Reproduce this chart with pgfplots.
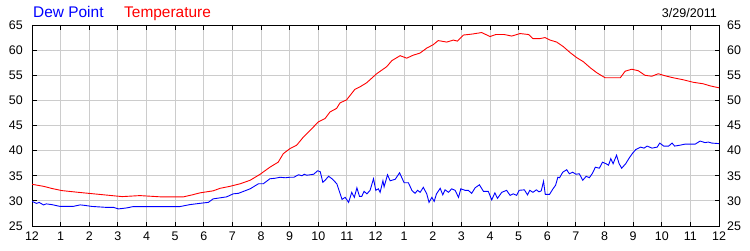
\documentclass[border=0pt]{standalone}
\usepackage{fontspec}
\setmainfont{Liberation Sans}
\usepackage{pgfplots}
\pgfplotsset{compat=1.18}
\definecolor{gridgray}{RGB}{204,204,204}
\definecolor{dewblue}{RGB}{0,0,255}
\definecolor{tempred}{RGB}{255,0,0}
\begin{document}
\begin{tikzpicture}[x=1bp,y=1bp]
\path[use as bounding box] (0,0) rectangle (750,250);
\begin{axis}[
  at={(32bp,24bp)}, anchor=south west,
  scale only axis, width=687bp, height=201bp,
  xmin=0, xmax=24, ymin=25, ymax=65,
  xtick={0,1,...,24},
  xticklabels={12,1,2,3,4,5,6,7,8,9,10,11,12,1,2,3,4,5,6,7,8,9,10,11,12},
  ytick={25,30,...,65},
  grid=major,
  major grid style={color=gridgray, line width=0.8bp},
  tick align=inside,
  major tick length=4.5bp,
  tick style={black, line width=0.8bp},
  axis line style={black, line width=0.8bp},
  /pgf/number format/assume math mode=true,
  tick label style={font=\fontsize{12.5}{14}\selectfont},
  yticklabel style={inner sep=0pt, xshift=-9bp},
  xticklabel style={inner sep=0pt, yshift=-6bp},
  clip=true,
]
\addplot[dewblue, line width=0.9bp] coordinates {
(0,29.9) (0.16,29.5) (0.25,29.7) (0.4,29.2) (0.5,29.4) (0.69,29.26) (0.98,28.9) (1.44,28.9) (1.68,29.2) (1.85,29.1) (2.08,28.9) (2.61,28.7) (2.85,28.7) (3.02,28.4) (3.31,28.6) (3.54,28.87) (5.17,28.87) (5.52,29.26) (6.0,29.6) (6.16,29.7) (6.33,30.4) (6.8,30.8) (7.03,31.4) (7.21,31.5) (7.62,32.4) (7.91,33.4) (8.08,33.4) (8.31,34.4) (8.49,34.5) (8.67,34.7) (8.85,34.6) (9.0,34.7) (9.15,34.7) (9.31,35.2) (9.43,35.0) (9.51,35.3) (9.6,35.1) (9.84,35.3) (9.98,36.0) (10.07,35.8) (10.16,33.7) (10.24,34.1) (10.36,34.9) (10.48,34.4) (10.65,33.4) (10.83,30.3) (10.94,30.7) (11.06,29.7) (11.17,31.7) (11.26,30.7) (11.35,32.6) (11.44,30.9) (11.52,30.9) (11.6,31.9) (11.7,31.4) (11.81,32.1) (11.93,34.4) (12.01,32.1) (12.1,32.4) (12.16,31.7) (12.26,34.0) (12.3,32.8) (12.42,35.2) (12.51,34.0) (12.69,34.3) (12.84,35.6) (13.0,33.6) (13.15,33.6) (13.27,32.1) (13.38,31.5) (13.47,32.1) (13.56,31.7) (13.67,32.7) (13.79,31.4) (13.87,29.7) (13.97,30.7) (14.05,29.9) (14.13,31.4) (14.26,32.5) (14.35,31.2) (14.43,32.2) (14.55,31.7) (14.66,32.4) (14.78,32.1) (14.9,30.7) (14.98,32.4) (15.13,32.1) (15.24,32.1) (15.36,31.5) (15.48,32.6) (15.63,33.2) (15.77,31.9) (15.94,31.9) (16.06,30.2) (16.17,31.6) (16.26,30.5) (16.41,31.7) (16.58,32.1) (16.7,31.1) (16.81,31.4) (16.93,31.1) (17.02,32.1) (17.2,32.2) (17.31,31.2) (17.39,32.1) (17.5,31.7) (17.62,32.2) (17.71,31.8) (17.79,32.0) (17.87,33.9) (17.93,31.3) (18.08,31.3) (18.2,32.4) (18.29,33.1) (18.37,34.7) (18.43,34.6) (18.54,35.7) (18.68,36.2) (18.77,35.4) (18.89,35.7) (19.0,35.3) (19.12,35.4) (19.24,34.1) (19.36,34.9) (19.47,34.6) (19.58,35.5) (19.68,36.7) (19.82,36.5) (19.93,37.7) (20.05,37.4) (20.14,37.1) (20.22,38.4) (20.3,37.4) (20.42,39.1) (20.51,37.4) (20.6,36.5) (20.74,37.4) (20.86,38.5) (20.97,39.4) (21.09,40.2) (21.26,40.7) (21.38,40.5) (21.49,40.9) (21.66,40.5) (21.84,40.7) (21.93,41.5) (22.07,40.9) (22.24,40.9) (22.36,41.5) (22.45,40.9) (22.65,41.1) (22.82,41.3) (23.17,41.3) (23.34,41.9) (23.51,41.6) (23.63,41.7) (23.75,41.5) (24,41.4)
};
\addplot[tempred, line width=0.9bp] coordinates {
(0,33.3) (0.4,32.9) (0.71,32.45) (1.04,32.05) (1.62,31.7) (2.43,31.25) (3.15,30.85) (3.77,31.05) (4.5,30.8) (5.29,30.8) (5.6,31.2) (5.87,31.6) (6.33,32.0) (6.57,32.5) (6.92,32.9) (7.27,33.4) (7.62,34.1) (7.97,35.3) (8.31,36.7) (8.6,37.7) (8.78,39.4) (9.01,40.4) (9.25,41.1) (9.48,42.7) (9.83,44.7) (10.0,45.7) (10.24,46.4) (10.41,47.7) (10.64,48.4) (10.76,49.5) (10.99,50.1) (11.28,52.2) (11.46,52.7) (11.69,53.5) (12.04,55.3) (12.39,56.7) (12.57,57.9) (12.86,58.9) (13.09,58.4) (13.32,59.0) (13.55,59.4) (13.79,60.4) (14.02,61.1) (14.19,61.9) (14.49,61.6) (14.72,62.0) (14.86,61.8) (15.07,63.0) (15.38,63.2) (15.71,63.5) (16.0,62.7) (16.2,63.1) (16.5,63.1) (16.76,62.8) (17.05,63.3) (17.35,63.1) (17.5,62.3) (17.75,62.3) (17.92,62.5) (18.1,62.0) (18.33,61.6) (18.56,60.7) (18.8,59.5) (19.03,58.5) (19.26,57.7) (19.5,56.5) (19.73,55.5) (20.02,54.5) (20.55,54.5) (20.72,55.8) (20.95,56.2) (21.18,55.9) (21.41,55.0) (21.65,54.8) (21.88,55.3) (22.11,54.9) (22.4,54.5) (22.75,54.1) (23.1,53.6) (23.45,53.3) (23.68,52.9) (24,52.5)
};
\end{axis}
\begin{axis}[
  at={(32bp,24bp)}, anchor=south west,
  scale only axis, width=687bp, height=201bp,
  xmin=0, xmax=24, ymin=25, ymax=65,
  xtick=\empty,
  ytick={25,30,...,65},
  yticklabel pos=right,
  axis line style={draw=none},
  major tick length=0pt,
  /pgf/number format/assume math mode=true,
  tick label style={font=\fontsize{12.5}{14}\selectfont},
  yticklabel style={inner sep=0pt, xshift=8bp},
]
\end{axis}
\node[anchor=base west, inner sep=0pt, text=dewblue, font=\fontsize{15.5}{18}\selectfont] at (33,233) {Dew Point};
\node[anchor=base west, inner sep=0pt, text=tempred, font=\fontsize{15.5}{18}\selectfont] at (124,233) {Temperature};
\node[anchor=base east, inner sep=0pt, font=\fontsize{12.6}{15}\selectfont] at (717,233) {3/29/2011};
\end{tikzpicture}
\end{document}
